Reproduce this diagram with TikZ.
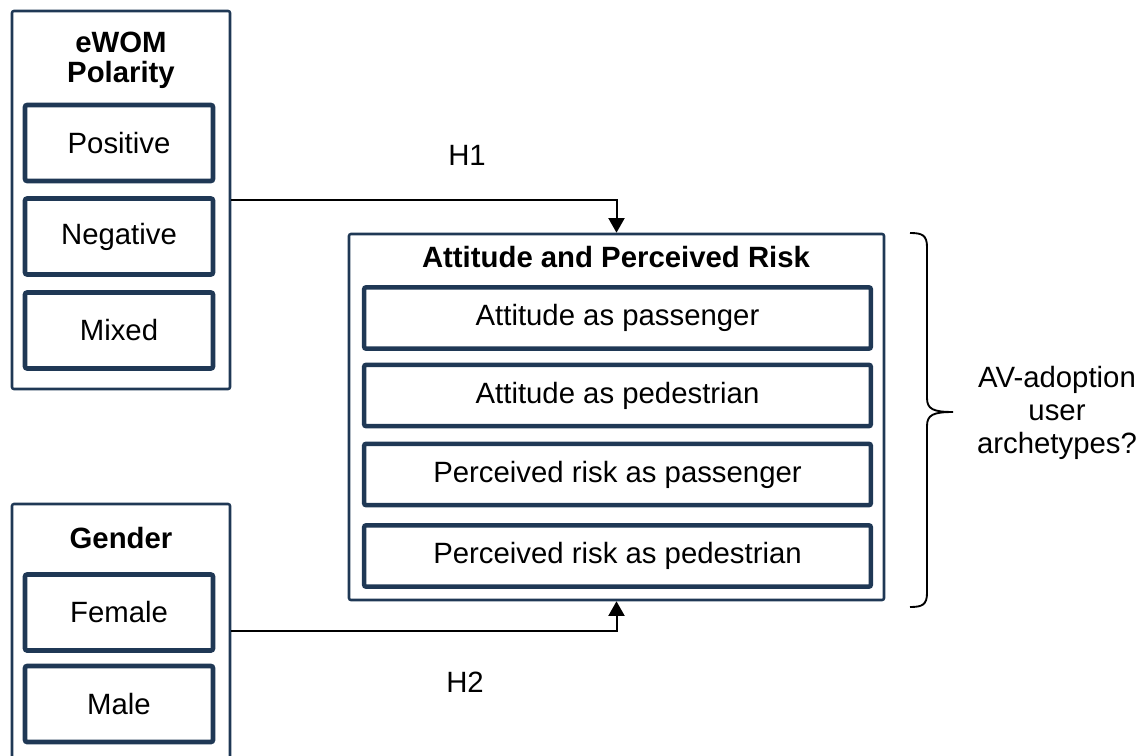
\documentclass[tikz,border=0pt]{standalone}
\usepackage{fontspec}
\setmainfont{Liberation Sans}
\usetikzlibrary{arrows.meta}
\definecolor{navy}{RGB}{31,56,85}
\tikzset{
  txt/.style={font=\fontsize{22}{22.5}\selectfont},
  head/.style={font=\fontsize{22}{22.5}\selectfont\bfseries,align=center},
  outerbox/.style={draw=navy,line width=1.9pt,rounded corners=1.5pt,minimum width=163.5pt},
  itembox/.style={txt,draw=navy,line width=3.4pt,rounded corners=1.5pt,
    minimum width=141pt,minimum height=57pt,inner sep=0pt},
  wideitem/.style={itembox,minimum width=380pt,minimum height=46pt},
  link/.style={line width=1.5pt,-{Triangle[width=12pt,length=11pt]}}
}
\begin{document}
\begin{tikzpicture}[x=0.75pt,y=-0.75pt]
  \useasboundingbox (0,0) rectangle (1146,756);
  % eWOM block
  \node[outerbox,minimum height=283.5pt] (ewom) at (121,200) {};
  \node[head] (ewomtitle) at (121,60) {eWOM\\Polarity};
  \node[itembox] (pos) at (119,143) {Positive};
  \node[itembox] (neg) at (119,236.5) {Negative};
  \node[itembox] (mix) at (119,330.5) {Mixed};
  % gender block
  \node[outerbox,minimum height=190.5pt] (gender) at (121,631) {};
  \node[head] (gendertitle) at (121,538) {Gender};
  \node[itembox] (female) at (119,612.5) {Female};
  \node[itembox] (male) at (119,704) {Male};
  % attitude block
  \node[outerbox,minimum width=401.25pt,minimum height=274.5pt] (att) at (616.5,417) {};
  \node[head] (atttitle) at (616,257) {Attitude and Perceived Risk};
  \node[wideitem] (attpass) at (617.5,318) {Attitude as passenger};
  \node[wideitem] (attped) at (617.5,395.5) {Attitude as pedestrian};
  \node[wideitem] (riskpass) at (617.5,474.5) {Perceived risk as passenger};
  \node[wideitem] (riskped) at (617.5,556) {Perceived risk as pedestrian};
  % hypotheses
  \draw[link] (ewom.east) -| (att.north);
  \draw[link] (gender.east) -| (att.south);
  \node[txt] (hone) at (467,155) {H1};
  \node[txt] (htwo) at (465,682) {H2};
  % brace
  \draw[line width=1.4pt] (910,233) .. controls (922,233) and (927,235) .. (927,247)
    -- (927,398) .. controls (927,409) and (933,412) .. (953,412)
    .. controls (933,412) and (927,415) .. (927,426)
    -- (927,593) .. controls (927,605) and (922,607) .. (910,607);
  \node[font=\fontsize{22}{24.75}\selectfont,align=center] (arche) at (1057,413)
    {AV-adoption\\user\\archetypes?};
\end{tikzpicture}
\end{document}
